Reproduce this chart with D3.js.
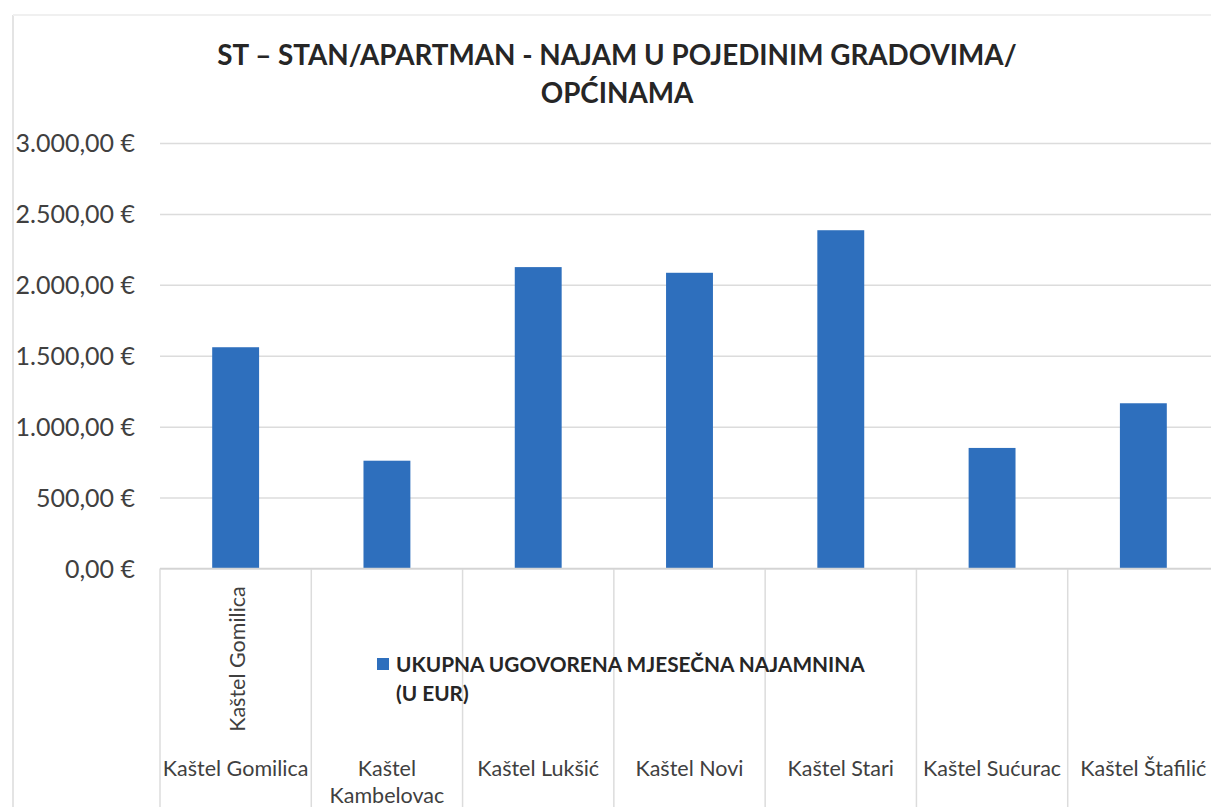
<!DOCTYPE html>
<html>
<head>
<meta charset="utf-8">
<script src="https://cdn.jsdelivr.net/npm/d3@7"></script>
<style>
  html, body { margin: 0; padding: 0; background: #fff; }
  svg { display: block; }
  text { font-family: Lato, "Open Sans", sans-serif; }
</style>
</head>
<body>
<svg id="chart" width="1211" height="807"></svg>
<script>
const categories = ["Kaštel Gomilica", "Kaštel Kambelovac", "Kaštel Lukšić", "Kaštel Novi", "Kaštel Stari", "Kaštel Sućurac", "Kaštel Štafilić"];
const categoryLines = [["Kaštel Gomilica"], ["Kaštel", "Kambelovac"], ["Kaštel Lukšić"], ["Kaštel Novi"], ["Kaštel Stari"], ["Kaštel Sućurac"], ["Kaštel Štafilić"]];
const values = [1560, 760, 2125, 2085, 2385, 850, 1165];
const yTicks = [0, 500, 1000, 1500, 2000, 2500, 3000];
const yTickLabels = ["0,00 €", "500,00 €", "1.000,00 €", "1.500,00 €", "2.000,00 €", "2.500,00 €", "3.000,00 €"];
const titleLines = ["ST – STAN/APARTMAN - NAJAM U POJEDINIM GRADOVIMA/", "OPĆINAMA"];
const legendLines = ["UKUPNA UGOVORENA MJESEČNA NAJAMNINA", "(U EUR)"];
const rotatedLabel = "Kaštel Gomilica";

const svg = d3.select("#chart");
const W = 1211, H = 807;
const plotLeft = 160, plotRight = 1219, plotTop = 143, plotBottom = 568.5;
const barColor = "#2e6fbd";
const gridColor = "#dcdcdc";
const textColor = "#404040";

// outer frame lines
svg.append("line").attr("x1", 13).attr("x2", 13).attr("y1", 15).attr("y2", H)
  .attr("stroke", "#e4e4e4").attr("stroke-width", 2);
svg.append("line").attr("x1", 13).attr("x2", W).attr("y1", 15).attr("y2", 15)
  .attr("stroke", "#f0f0f0").attr("stroke-width", 2);

const y = d3.scaleLinear().domain([0, 3000]).range([plotBottom, plotTop]);
const x = d3.scaleBand().domain(categories).range([plotLeft, plotRight])
  .paddingInner(0.69).paddingOuter(0.345);
const xSlot = d3.scaleBand().domain(categories).range([plotLeft, plotRight]).padding(0);

// gridlines via axis
const yAxis = d3.axisLeft(y).tickValues(yTicks)
  .tickFormat((d, i) => yTickLabels[i])
  .tickSize(-(W - plotLeft)).tickPadding(25);
const gy = svg.append("g").attr("transform", `translate(${plotLeft},0)`).call(yAxis);
gy.select(".domain").remove();
gy.selectAll(".tick line").attr("stroke", gridColor).attr("stroke-width", 1.5);
gy.selectAll(".tick text").attr("fill", textColor).style("font-size", "25px")
  .attr("dy", "0.35em");

// category separators
const seps = categories.map(c => xSlot(c)).concat([xSlot(categories[categories.length - 1]) + xSlot.step()]);
svg.append("g").selectAll("line").data(seps).join("line")
  .attr("x1", d => d).attr("x2", d => d)
  .attr("y1", plotBottom).attr("y2", H)
  .attr("stroke", gridColor).attr("stroke-width", 1.5);

// bars
svg.append("g").selectAll("rect").data(values).join("rect")
  .attr("x", (d, i) => x(categories[i]))
  .attr("width", x.bandwidth())
  .attr("y", d => y(d))
  .attr("height", d => y(0) - y(d))
  .attr("fill", barColor);

// x baseline
svg.append("line").attr("x1", plotLeft).attr("x2", W).attr("y1", y(0)).attr("y2", y(0))
  .attr("stroke", "#d4d4d4").attr("stroke-width", 1.5);

// category labels
const catG = svg.append("g");
categoryLines.forEach((lines, i) => {
  const cx = xSlot(categories[i]) + xSlot.bandwidth() / 2;
  const t = catG.append("text").attr("x", cx).attr("y", 776)
    .attr("text-anchor", "middle").attr("fill", textColor).style("font-size", "21.5px");
  lines.forEach((l, j) => {
    t.append("tspan").attr("x", cx).attr("dy", j === 0 ? 0 : 27).text(l);
  });
});

// rotated label in first slot
const rcx = xSlot(categories[0]) + xSlot.bandwidth() / 2;
svg.append("text")
  .attr("transform", `translate(${rcx + 9},659) rotate(-90)`)
  .attr("text-anchor", "middle").attr("fill", textColor).style("font-size", "21.5px")
  .text(rotatedLabel);

// title
const tt = svg.append("text").attr("x", 616).attr("y", 65).attr("text-anchor", "middle")
  .attr("fill", "#262626").style("font-size", "27.8px").style("font-weight", "bold");
titleLines.forEach((l, j) => tt.append("tspan").attr("x", 617).attr("dy", j === 0 ? 0 : 38).text(l));

// legend
svg.append("rect").attr("x", 377).attr("y", 658).attr("width", 12).attr("height", 12).attr("fill", barColor);
const lt = svg.append("text").attr("x", 396).attr("y", 672)
  .attr("fill", "#262626").style("font-size", "20.8px").style("font-weight", "bold");
legendLines.forEach((l, j) => lt.append("tspan").attr("x", 396).attr("dy", j === 0 ? 0 : 29).text(l));
</script>
</body>
</html>
